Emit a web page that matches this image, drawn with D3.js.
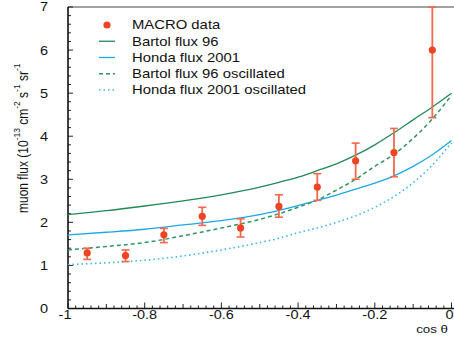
<!DOCTYPE html>
<html>
<head>
<meta charset="utf-8">
<script src="https://cdn.jsdelivr.net/npm/d3@7"></script>
<style>
  body { margin: 0; background: #fff; }
  svg { display: block; font-family: "Liberation Sans", Arial, sans-serif; }
</style>
</head>
<body>
<svg id="chart" width="454" height="345"></svg>
<script>
// MACRO data points (cos theta bins)
const dataX = [-0.95, -0.85, -0.75, -0.65, -0.55, -0.45, -0.35, -0.25, -0.15, -0.05];
const dataY = [1.29, 1.23, 1.71, 2.14, 1.87, 2.37, 2.82, 3.43, 3.62, 6.0];
const dataLo = [1.14, 1.09, 1.53, 1.93, 1.66, 2.12, 2.51, 3.0, 3.06, 4.43];
const dataHi = [1.40, 1.36, 1.86, 2.35, 2.08, 2.64, 3.13, 3.84, 4.18, 7.0];

// flux predictions
const curveX = [-1, -0.9, -0.8, -0.7, -0.6, -0.5, -0.45, -0.4, -0.35, -0.3, -0.25, -0.2, -0.15, -0.1, -0.05, 0];
const bartol = [2.18, 2.27, 2.38, 2.5, 2.64, 2.82, 2.93, 3.05, 3.2, 3.36, 3.56, 3.8, 4.08, 4.38, 4.68, 5.0];
const honda = [1.71, 1.77, 1.84, 1.94, 2.04, 2.18, 2.28, 2.39, 2.51, 2.63, 2.77, 2.91, 3.08, 3.3, 3.57, 3.9];
const bartolOsc = [1.36, 1.44, 1.53, 1.69, 1.87, 2.07, 2.2, 2.35, 2.52, 2.75, 3.0, 3.3, 3.58, 3.95, 4.4, 4.95];
const hondaOsc = [1.02, 1.06, 1.12, 1.22, 1.36, 1.53, 1.63, 1.76, 1.87, 2.0, 2.15, 2.35, 2.6, 2.92, 3.33, 3.85];

const xTicks = [-1, -0.8, -0.6, -0.4, -0.2, 0];
const xTickLabels = ["-1", "-0.8", "-0.6", "-0.4", "-0.2", "0"];
const yTicks = [0, 1, 2, 3, 4, 5, 6, 7];

const legendNames = ["MACRO data", "Bartol flux 96", "Honda flux 2001", "Bartol flux 96 oscillated", "Honda flux 2001 oscillated"];

const RED = "#ee4424";
const RED_BAR = "#f2694d";
const GREEN = "#1f8a55";
const BLUE = "#1ca8e6";
const GREEN_D = "#2f9660";
const BLUE_D = "#3ab6e6";
const SX = 1.16; // picture is a little stretched horizontally

const svg = d3.select("#chart");
const x = d3.scaleLinear().domain([-1, 0]).range([68, 451.5]);
const y = d3.scaleLinear().domain([0, 7]).range([308.5, 7]);

// stretch text horizontally around its anchor
function stretch(sel) {
  sel.each(function () {
    const t = d3.select(this);
    const tx = +t.attr("x"), ty = +t.attr("y");
    t.attr("transform", `translate(${tx},${ty}) scale(${SX},1) translate(${-tx},${-ty})`);
  });
}

svg.append("defs").append("clipPath").attr("id", "plot")
  .append("rect").attr("x", 68).attr("y", 6).attr("width", 386).attr("height", 303);

// frame top line
svg.append("line").attr("x1", 68).attr("x2", 454).attr("y1", 7).attr("y2", 7)
  .attr("stroke", "#444").attr("stroke-width", 1);

// ticks
const ax = svg.append("g");
d3.range(0, 51).forEach(i => {
  const v = -1 + i * 0.02;
  const major = i % 10 === 0, mid = i % 5 === 0;
  const len = major ? 6 : mid ? 4.5 : 3;
  ax.append("line").attr("x1", x(v)).attr("x2", x(v))
    .attr("y1", y(0)).attr("y2", y(0) - len)
    .attr("stroke", "#222").attr("stroke-width", 1);
});
d3.range(0, 36).forEach(i => {
  const v = i * 0.2;
  const major = i % 5 === 0;
  ax.append("line").attr("x1", x(-1)).attr("x2", x(-1) + (major ? 5 : 3))
    .attr("y1", y(v)).attr("y2", y(v))
    .attr("stroke", "#222").attr("stroke-width", 1);
});

// axis lines
svg.append("line").attr("x1", x(-1)).attr("x2", 454).attr("y1", y(0)).attr("y2", y(0))
  .attr("stroke", "#111").attr("stroke-width", 1.6);
svg.append("line").attr("x1", x(-1)).attr("x2", x(-1)).attr("y1", y(7)).attr("y2", y(0))
  .attr("stroke", "#111").attr("stroke-width", 1.6);

// tick labels
svg.selectAll(".ylab").data(yTicks).enter().append("text")
  .attr("class", "ylab")
  .attr("x", 48).attr("y", d => y(d) + 4.5)
  .attr("text-anchor", "end").attr("font-size", 12.5).attr("fill", "#111")
  .text(d => d)
  .call(stretch);

svg.selectAll(".xlab").data(xTicks).enter().append("text")
  .attr("class", "xlab")
  .attr("x", (d, i) => i === 0 ? x(d) - 3 : i === xTicks.length - 1 ? 453.5 : x(d))
  .attr("y", 319)
  .attr("text-anchor", (d, i) => i === xTicks.length - 1 ? "end" : "middle")
  .attr("font-size", 12.5).attr("fill", "#111")
  .text((d, i) => xTickLabels[i])
  .call(stretch);

svg.append("text").attr("x", 448).attr("y", 333)
  .attr("text-anchor", "end").attr("font-size", 11.5).attr("fill", "#111")
  .text("cos \u03b8").call(stretch);

// y title with superscripts
const yt = svg.append("text")
  .attr("transform", `translate(28,213) rotate(-90) scale(1,${SX})`)
  .attr("font-size", 12).attr("fill", "#111");
const parts = [["muon flux (10", false], ["-13", true], [" cm", false], ["-2", true], [" s", false], ["-1", true], [" sr", false], ["-1", true]];
parts.forEach(p => {
  yt.append("tspan")
    .attr("font-size", p[1] ? 8.5 : 12)
    .attr("dy", p[1] ? -7 : 7)
    .text(p[0]);
});
yt.select("tspan").attr("dy", 0);

// curves
const plot = svg.append("g").attr("clip-path", "url(#plot)");
const line = d3.line().x(d => x(d[0])).y(d => y(d[1])).curve(d3.curveMonotoneX);
const series = [
  { vals: bartol, color: GREEN, dash: null, w: 1.3 },
  { vals: honda, color: BLUE, dash: null, w: 1.3 },
  { vals: bartolOsc, color: GREEN_D, dash: "4,3", w: 1.5 },
  { vals: hondaOsc, color: BLUE_D, dash: "1.5,3", w: 1.6 }
];
series.forEach(s => {
  plot.append("path")
    .attr("d", line(curveX.map((c, i) => [c, s.vals[i]])))
    .attr("fill", "none").attr("stroke", s.color)
    .attr("stroke-width", s.w)
    .attr("stroke-dasharray", s.dash);
});

// error bars and markers
const pts = plot.selectAll(".pt").data(dataX).enter().append("g");
pts.append("line")
  .attr("x1", d => x(d)).attr("x2", d => x(d))
  .attr("y1", (d, i) => y(dataLo[i])).attr("y2", (d, i) => y(dataHi[i]))
  .attr("stroke", RED_BAR).attr("stroke-width", 1.8);
pts.append("line")
  .attr("x1", d => x(d) - 4).attr("x2", d => x(d) + 4)
  .attr("y1", (d, i) => y(dataLo[i])).attr("y2", (d, i) => y(dataLo[i]))
  .attr("stroke", RED_BAR).attr("stroke-width", 1.6);
pts.append("line")
  .attr("x1", d => x(d) - 4).attr("x2", d => x(d) + 4)
  .attr("y1", (d, i) => y(dataHi[i])).attr("y2", (d, i) => y(dataHi[i]))
  .attr("stroke", RED_BAR).attr("stroke-width", 1.6);
pts.append("circle")
  .attr("cx", d => x(d)).attr("cy", (d, i) => y(dataY[i]))
  .attr("r", 3.6).attr("fill", RED);

// legend
const lg = svg.append("g");
const rowY = i => 25 + i * 16.25;
lg.append("circle").attr("cx", 107).attr("cy", rowY(0)).attr("r", 3.6).attr("fill", RED);
series.forEach((s, i) => {
  lg.append("line").attr("x1", 99).attr("x2", 115)
    .attr("y1", rowY(i + 1)).attr("y2", rowY(i + 1))
    .attr("stroke", s.color).attr("stroke-width", s.w)
    .attr("stroke-dasharray", s.dash);
});
lg.selectAll("text").data(legendNames).enter().append("text")
  .attr("x", 132).attr("y", (d, i) => rowY(i) + 4.5)
  .attr("font-size", 12.8).attr("fill", "#111")
  .text(d => d)
  .call(stretch);
</script>
</body>
</html>
